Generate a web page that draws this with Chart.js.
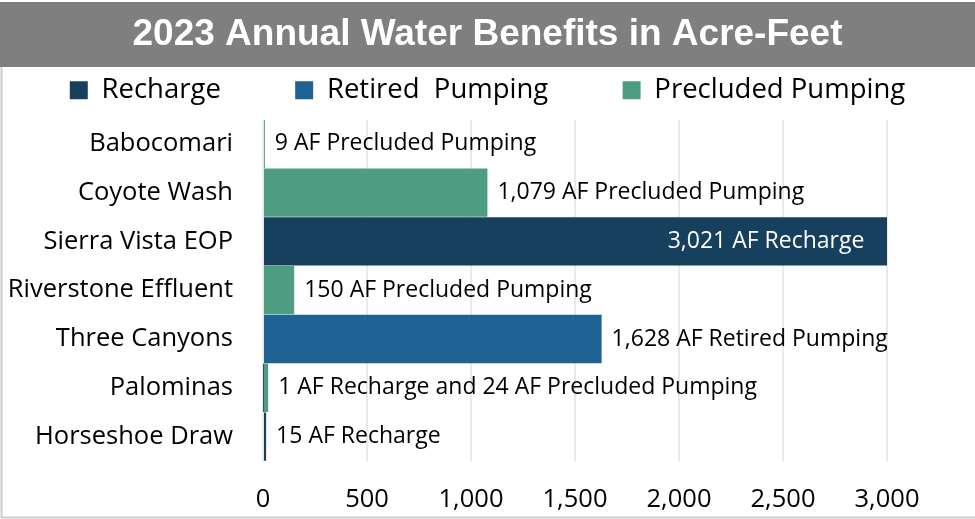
<!DOCTYPE html>
<html>
<head>
<meta charset="utf-8">
<title>2023 Annual Water Benefits</title>
<script src="https://cdn.jsdelivr.net/npm/chart.js@4.4.1/dist/chart.umd.min.js"></script>
<style>
  html, body { margin: 0; padding: 0; background: #fff; }
  #wrap { position: relative; width: 975px; height: 519px; }
</style>
</head>
<body>
<div id="wrap"><canvas id="benefits"></canvas></div>
<script>
// Data (acre-feet)
const SITES = ['Babocomari', 'Coyote Wash', 'Sierra Vista EOP', 'Riverstone Effluent', 'Three Canyons', 'Palominas', 'Horseshoe Draw'];
const RECHARGE = [0, 0, 3021, 0, 0, 1, 15];
const RETIRED = [0, 0, 0, 0, 1628, 0, 0];
const PRECLUDED = [9, 1079, 0, 150, 0, 24, 0];
const BAR_LABELS = [
    '9 AF Precluded Pumping',
    '1,079 AF Precluded Pumping',
    '3,021 AF Recharge',
    '150 AF Precluded Pumping',
    '1,628 AF Retired Pumping',
    '1 AF Recharge and 24 AF Precluded Pumping',
    '15 AF Recharge'
];
const X_MAX = 3000;
const X_STEP = 500;

const COLORS = { recharge: '#17405f', retired: '#1f6294', precluded: '#4e9d82', banner: '#7f7f7f', grid: '#e9e9e9', frame: '#cdcdcd' };
const LABEL_FONT = "'Open Sans', 'Noto Sans', sans-serif";

// gray title banner + left/bottom frame
const bannerPlugin = {
    id: 'banner',
    beforeDraw(chart) {
        const { ctx, width } = chart;
        ctx.save();
        ctx.fillStyle = COLORS.banner;
        ctx.fillRect(0, 2, width, 65);
        ctx.restore();
    },
    afterDraw(chart) {
        const { ctx, width, height } = chart;
        ctx.save();
        ctx.strokeStyle = COLORS.frame;
        ctx.lineWidth = 2;
        ctx.beginPath();
        ctx.moveTo(1.5, 67);
        ctx.lineTo(1.5, height - 1.5);
        ctx.lineTo(width, height - 1.5);
        ctx.stroke();
        ctx.restore();
    }
};

// text at the end of each stacked bar
const barLabelPlugin = {
    id: 'barLabels',
    afterDatasetsDraw(chart) {
        const { ctx } = chart;
        const xScale = chart.scales.x, yScale = chart.scales.y;
        ctx.save();
        ctx.font = `23px ${LABEL_FONT}`;
        ctx.textBaseline = 'middle';
        SITES.forEach((site, i) => {
            const total = RECHARGE[i] + RETIRED[i] + PRECLUDED[i];
            const xEnd = xScale.getPixelForValue(total);
            const y = yScale.getPixelForValue(i);
            const text = BAR_LABELS[i];
            const w = ctx.measureText(text).width;
            if (xEnd + 10 + w > chart.width) {
                ctx.fillStyle = '#ffffff';
                ctx.textAlign = 'right';
                ctx.fillText(text, xEnd - 27, y);
            } else {
                ctx.fillStyle = '#000000';
                ctx.textAlign = 'left';
                ctx.fillText(text, xEnd + 10, y);
            }
        });
        ctx.restore();
    }
};

const barDefaults = { borderWidth: 0, barPercentage: 0.99, categoryPercentage: 1 };
const hiddenAxis = { grid: { display: false }, border: { display: false }, ticks: { display: false } };

new Chart(document.getElementById('benefits'), {
    type: 'bar',
    data: {
        labels: SITES,
        datasets: [
            { label: 'Recharge', data: RECHARGE, backgroundColor: COLORS.recharge, ...barDefaults },
            { label: 'Retired  Pumping', data: RETIRED, backgroundColor: COLORS.retired, ...barDefaults },
            { label: 'Precluded Pumping', data: PRECLUDED, backgroundColor: COLORS.precluded, ...barDefaults }
        ]
    },
    options: {
        indexAxis: 'y',
        responsive: true,
        maintainAspectRatio: false,
        animation: false,
        layout: { padding: { top: 2, left: 0, right: 0, bottom: 0 } },
        plugins: {
            title: {
                display: true,
                text: '2023 Annual Water Benefits in Acre-Feet',
                color: '#ffffff',
                font: { family: "'Liberation Sans', Arial, sans-serif", size: 37, weight: 'bold', lineHeight: 1.2 },
                padding: { top: 11, bottom: 9 }
            },
            legend: {
                display: true,
                position: 'top',
                labels: {
                    color: '#000000',
                    font: { family: LABEL_FONT, size: 27.5 },
                    boxWidth: 18,
                    boxHeight: 18,
                    padding: 10,
                    generateLabels(chart) {
                        const items = Chart.defaults.plugins.legend.labels.generateLabels(chart);
                        items.forEach((it, i) => { if (i < items.length - 1) it.text += ' '.repeat(9); });
                        return items;
                    }
                }
            },
            tooltip: { enabled: false }
        },
        scales: {
            x: {
                stacked: true,
                min: 0,
                max: X_MAX,
                grid: { color: COLORS.grid, lineWidth: 2, drawTicks: false },
                border: { display: false },
                ticks: {
                    stepSize: X_STEP,
                    padding: 23,
                    color: '#000000',
                    font: { family: LABEL_FONT, size: 25.5 },
                    callback: v => v.toLocaleString('en-US')
                },
                afterFit(scale) { scale.height = 58; }
            },
            y: {
                stacked: true,
                grid: { display: false, drawTicks: false },
                border: { display: false },
                ticks: { color: '#000000', padding: 30, font: { family: LABEL_FONT, size: 25.5 } },
                afterFit(scale) { scale.width = 263; }
            },
            // empty spacers so the plot sits where it does in the original
            spacerRight: { type: 'linear', axis: 'y', position: 'right', ...hiddenAxis, afterFit(scale) { scale.width = 88; } },
            spacerTop: { type: 'linear', axis: 'x', position: 'top', ...hiddenAxis, afterFit(scale) { scale.height = 5.5; } }
        }
    },
    plugins: [bannerPlugin, barLabelPlugin]
});
</script>
</body>
</html>
